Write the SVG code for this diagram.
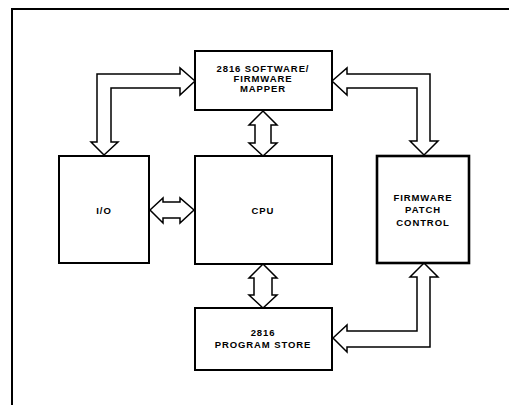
<svg xmlns="http://www.w3.org/2000/svg" width="509" height="405" viewBox="0 0 509 405">
<style>
.box{fill:#fff;stroke:#000;stroke-width:2}
.thick{stroke-width:2.6}
.arr{fill:#fff;stroke:#000;stroke-width:1.5;stroke-linejoin:miter}
text{font-family:"Liberation Sans",Arial,sans-serif;font-weight:bold;font-size:9.5px;letter-spacing:0.9px;text-anchor:middle;fill:#000}
</style>
<rect x="0" y="0" width="509" height="405" fill="#fff"/>
<path d="M12,405 V9 H509" fill="none" stroke="#000" stroke-width="2"/>
<g id="connectors">
<path class="arr" d="M195,81 L180,68 L180,74 L97,74 L97,142 L91,142 L104,155 L118,142 L111,142 L111,88 L180,88 L180,95 Z"/>
<path class="arr" d="M332,81 L347,68 L347,74 L430,74 L430,141 L438,141 L424,155 L410,141 L417,141 L417,88 L347,88 L347,95 Z"/>
<path class="arr" d="M333,338 L347,325 L347,331 L417,331 L417,277 L410,277 L424,263 L438,277 L430,277 L430,347 L347,347 L347,352 Z"/>
<path class="arr" d="M263,111 L277,125 L271,125 L271,143 L277,143 L263,156 L249,143 L255,143 L255,125 L249,125 Z"/>
<path class="arr" d="M263,264 L277,278 L272,278 L272,295 L277,295 L263,308 L249,295 L254,295 L254,278 L249,278 Z"/>
<path class="arr" d="M150,210 L163,198 L163,202 L180,202 L180,198 L194,210 L180,223 L180,218 L163,218 L163,223 Z"/>
</g>
<g id="mapper">
<rect class="box" x="195" y="51" width="137" height="59"/>
<text x="263" y="72">2816 SOFTWARE/</text>
<text x="263" y="82">FIRMWARE</text>
<text x="263" y="92">MAPPER</text>
</g>
<g id="io">
<rect class="box" x="59" y="156" width="90" height="107"/>
<text x="104" y="214">I/O</text>
</g>
<g id="cpu">
<rect class="box" x="195" y="156" width="137" height="108"/>
<text x="263" y="214">CPU</text>
</g>
<g id="firmware">
<rect class="box thick" x="377" y="156" width="92" height="107"/>
<text x="423" y="201">FIRMWARE</text>
<text x="423" y="213">PATCH</text>
<text x="423" y="226">CONTROL</text>
</g>
<g id="program">
<rect class="box" x="195" y="308" width="137" height="62"/>
<text x="263" y="336">2816</text>
<text x="263" y="348">PROGRAM STORE</text>
</g>
</svg>
